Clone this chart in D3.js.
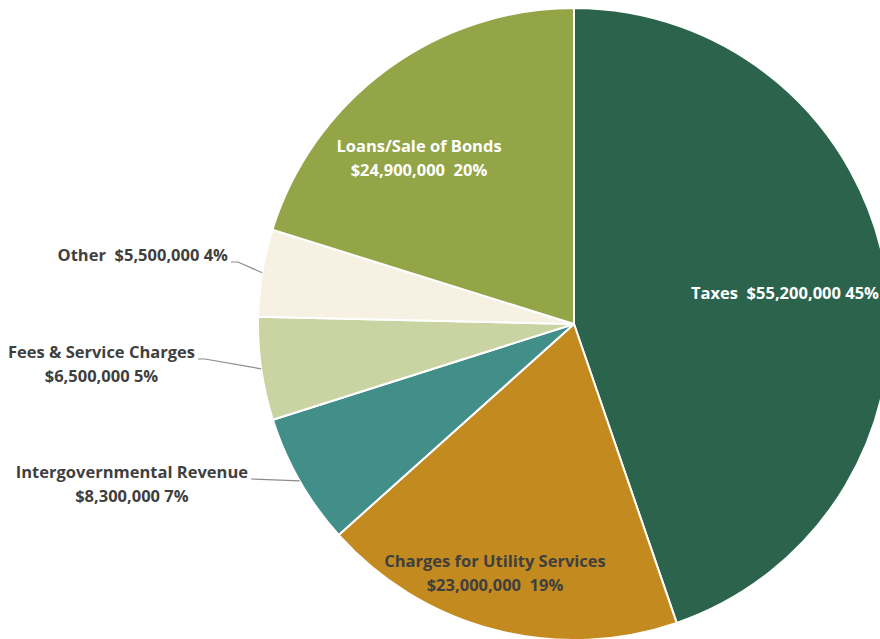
<!DOCTYPE html>
<html>
<head>
<meta charset="utf-8">
<script src="https://cdn.jsdelivr.net/npm/d3@7"></script>
<style>
  html, body { margin: 0; padding: 0; background: #ffffff; overflow: hidden; }
  svg { display: block; }
  text { font-family: "Open Sans", "Noto Sans", sans-serif; font-weight: 700; font-size: 16.5px; white-space: pre; }
</style>
</head>
<body>
<svg id="chart" width="880" height="639"></svg>
<script>
// Revenue sources (values in dollars), clockwise from 12 o'clock
const categories = ["Taxes", "Charges for Utility Services", "Intergovernmental Revenue",
                    "Fees & Service Charges", "Other", "Loans/Sale of Bonds"];
const amounts = [55200000, 23000000, 8300000, 6500000, 5500000, 24900000];
const amountLabels = ["$55,200,000", "$23,000,000", "$8,300,000", "$6,500,000", "$5,500,000", "$24,900,000"];
const percentLabels = ["45%", "19%", "7%", "5%", "4%", "20%"];
const colors = ["#2c634c", "#c38a20", "#428e89", "#c9d4a2", "#f6f1e2", "#93a546"];

const width = 880, height = 639;
const cx = 574, cy = 324, R = 316;

const svg = d3.select("#chart");
const g = svg.append("g").attr("transform", `translate(${cx},${cy})`);

const data = categories.map((c, i) => ({ name: c, value: amounts[i], amount: amountLabels[i], pct: percentLabels[i], color: colors[i] }));

const pie = d3.pie().value(d => d.value).sort(null);
const arc = d3.arc().innerRadius(0).outerRadius(R);
const arcs = pie(data);

g.selectAll("path.slice")
  .data(arcs)
  .join("path")
  .attr("class", "slice")
  .attr("d", arc)
  .attr("fill", d => d.data.color)
  .attr("stroke", "#ffffff")
  .attr("stroke-width", 2)
  .attr("stroke-linejoin", "round");

// Label layout: inner labels sit inside their slice, outer ones hang off a leader line
const layout = {
  "Taxes":                        { kind: "inner", dx: 211, dy: -25, lines: d => [`${d.name}  ${d.amount} ${d.pct}`], fill: "#ffffff" },
  "Charges for Utility Services": { kind: "inner", dx: -79, dy: 243, lines: d => [d.name, `${d.amount}  ${d.pct}`], fill: "#3f3f3f" },
  "Loans/Sale of Bonds":          { kind: "inner", dx: -155, dy: -172, lines: d => [d.name, `${d.amount}  ${d.pct}`], fill: "#ffffff" },
  "Other":                        { kind: "outer", tx: -345, ty: -63, bend: 7, lines: d => [`${d.name}  ${d.amount} ${d.pct}`] },
  "Fees & Service Charges":       { kind: "outer", tx: -378, ty: 34, bend: 7, lines: d => [d.name, `${d.amount} ${d.pct}`] },
  "Intergovernmental Revenue":    { kind: "outer", tx: -325, ty: 154, bend: 0, lines: d => [d.name, `${d.amount} ${d.pct}`] }
};
const lineH = 23.5;

arcs.forEach(a => {
  const d = a.data;
  const L = layout[d.name];
  const lines = L.lines(d);
  if (L.kind === "inner") {
    const t = g.append("text")
      .attr("text-anchor", "middle")
      .attr("fill", L.fill);
    lines.forEach((s, i) => {
      t.append("tspan").attr("x", L.dx).attr("y", L.dy + i * lineH).text(s);
    });
  } else {
    const mid = (a.startAngle + a.endAngle) / 2;
    const ex = Math.sin(mid) * R, ey = -Math.cos(mid) * R;
    const lineY = L.ty + 1;
    // leader: slice edge -> bend point -> just past the text end
    g.append("polyline")
      .attr("points", [[ex, ey], [L.tx + 2 + L.bend, lineY], [L.tx + 2, lineY]].map(p => p.join(",")).join(" "))
      .attr("fill", "none")
      .attr("stroke", "#8c8c8c")
      .attr("stroke-width", 1.2);
    const t = g.append("text").attr("fill", "#3f3f3f");
    const first = t.append("tspan").attr("text-anchor", "end").attr("x", L.tx - 1).attr("y", L.ty).text(lines[0]);
    const w = first.node().getComputedTextLength();
    lines.slice(1).forEach((s, i) => {
      t.append("tspan").attr("text-anchor", "middle").attr("x", L.tx - 1 - w / 2).attr("y", L.ty + (i + 1) * lineH).text(s);
    });
  }
});
</script>
</body>
</html>
